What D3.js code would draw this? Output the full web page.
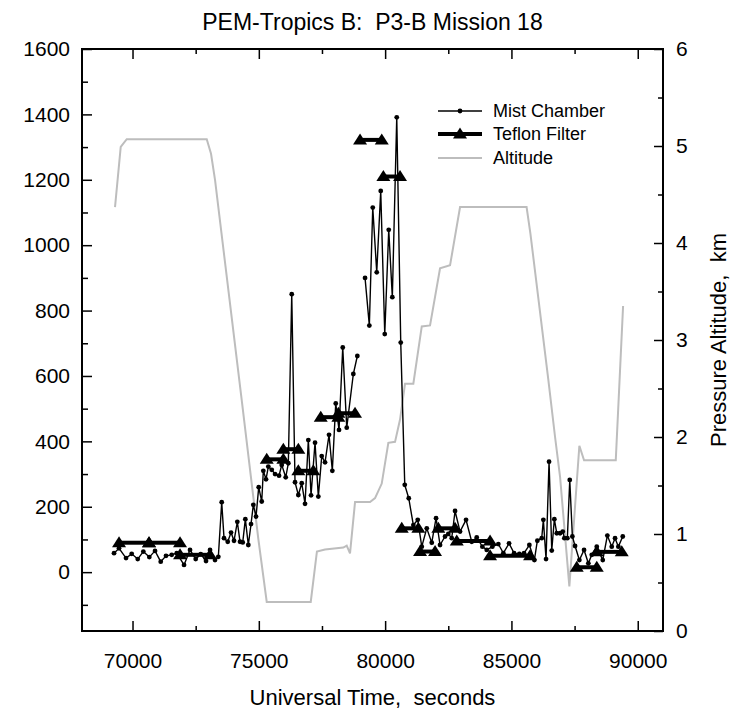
<!DOCTYPE html>
<html>
<head>
<meta charset="utf-8">
<script src="https://cdn.jsdelivr.net/npm/d3@7"></script>
<style>
  body { margin: 0; background: #fff; }
  text { font-family: "Liberation Sans", Arial, sans-serif; white-space: pre; }
</style>
</head>
<body>
<div id="chart"></div>
<script>
// Mist Chamber (UT seconds, value); null breaks the line
var mistTime = [69268, 69466, 69743, 69967, 70206, 70428, 70665, 70891, 71116, 71326, 71552, 71750,
  72039, 72276, 72501, 72700, 72910, 73068, 73266, 73397, 73531, 73622, 73769, 73900, 74018, 74149,
  74256, 74363, 74466, 74584, 74691, 74782, 74890, 74996, 75115, 75178, 75285, 75376, 75511, 75642,
  75800, 75907, 76065, 76168, 76303, 76433, 76564, 76699, 76829, 76960, 77067, 77225, 77356, 77490,
  77621, 77779, 77910, 78045, 78175, 78322, 78480, 78741, 78900, 79050,
  79205, 79375, 79510, 79668, 79826, 79985, 80143, 80285, 80460, 80618, 80777, 80935, 81117, 81291,
  81450, 81648, 81846, 82016, 82174, 82372, 82500, 82637, 82768, 82966, 83203, 83428, 83626, 83849,
  84023, 84245, 84482, 84680, 84906, 85104, 85314, 85500, 85710, 85908, 86026, 86200, 86264, 86370,
  86489, 86596, 86699, 86794, 86925, 87032, 87095, 87214, 87309, 87412, 87519, 87689, 87875, 88045,
  88180, 88378, 88615, 88797, 88971, 89102, 89233, 89407];
var mistValue = [58, 73, 43, 56, 40, 63, 46, 65, 32, 50, 53, 58,
  22, 68, 40, 55, 34, 68, 37, 47, 214, 104, 93, 121, 96, 154,
  93, 91, 162, 83, 147, 206, 170, 260, 216, 310, 284, 323, 313, 300,
  295, 328, 290, 333, 850, 275, 236, 272, 209, 404, 235, 396, 231, 355,
  336, 420, 310, 516, 435, 687, 442, 606, 661, null,
  900, 754, 1115, 917, 1166, 728, 1047, 841, 1391, 702, 267, 226, 144, 160,
  78, 134, 90, 165, 83, 109, 117, 104, 187, 124, 160, 93, 106, 78,
  68, 78, 86, 58, 88, 58, 56, 58, 83, 37, 96, 104, 160, 40,
  338, 66, 162, 119, 119, 124, 104, 104, 282, 109, 80, 37, 68, 27,
  53, 78, 37, 112, 78, 104, 78, 109];

// Teflon Filter samples: start, stop, value
var tefStart = [69466, 70653, 71881, 75313, 75970, 76564, 77451, 78148, 79007, 79930, 80658, 81383, 82106, 82835, 84154, 87586, 88378];
var tefStop  = [70653, 71881, 73069, 75970, 76564, 77158, 78148, 78808, 79866, 80590, 81315, 81976, 82768, 84154, 85737, 88378, 89367];
var tefValue = [90, 90, 53, 345, 376, 310, 474, 486, 1322, 1210, 134, 63, 134, 95, 50, 15, 62];

// Pressure altitude (km)
var altTime = [69307, 69533, 69770, 72938, 73108, 73266, 74323, 74980, 75313, 77055, 77300, 77620,
  78346, 78480, 78610, 78809, 79403, 79601, 79866, 80127, 80392, 80590, 80788, 81117, 81450, 81778,
  82174, 82570, 82966, 85600, 85750, 86461, 86727, 86925, 87293, 87689, 87875, 89130, 89420];
var altKm = [4.37, 4.99, 5.07, 5.07, 4.92, 4.65, 2.38, 0.95, 0.30, 0.30, 0.82, 0.84,
  0.86, 0.88, 0.80, 1.33, 1.33, 1.37, 1.52, 1.94, 1.95, 2.18, 2.55, 2.55, 3.14, 3.15,
  3.74, 3.77, 4.37, 4.37, 4.10, 2.59, 2.00, 1.59, 0.46, 1.91, 1.76, 1.76, 3.35];

var xMajor = [70000, 75000, 80000, 85000, 90000];
var xMinor = [72500, 77500, 82500, 87500];
var yLeftMajor = [0, 200, 400, 600, 800, 1000, 1200, 1400, 1600];
var yLeftMinor = [-100, 100, 300, 500, 700, 900, 1100, 1300, 1500];
var yRightMajor = [0, 1, 2, 3, 4, 5, 6];
var yRightMinor = [0.5, 1.5, 2.5, 3.5, 4.5, 5.5];

var W = 749, H = 721;
var L = 82, R = 663, T = 49, B = 631;

var svg = d3.select("#chart").append("svg")
    .attr("width", W)
    .attr("height", H);

var x = d3.scaleLinear().domain([68000, 91000]).range([L, R]);
var y = d3.scaleLinear().domain([-180, 1600]).range([B, T]);
var y2 = d3.scaleLinear().domain([0, 6]).range([B, T]);

function tidy(g) {
    g.select(".domain").remove();
    g.selectAll(".tick line").attr("stroke", "#000").attr("stroke-width", 1.5);
    g.selectAll(".tick text").attr("font-family", "Liberation Sans, Arial, sans-serif")
        .attr("font-size", 21).attr("fill", "#000");
}

// bottom
svg.append("g").attr("transform", "translate(0," + B + ")")
    .call(d3.axisBottom(x).tickValues(xMajor).tickSize(-10).tickPadding(22).tickFormat(d3.format("d")))
    .call(tidy);
svg.append("g").attr("transform", "translate(0," + B + ")")
    .call(d3.axisBottom(x).tickValues(xMinor).tickSize(-5).tickFormat(""))
    .call(tidy);
// top
svg.append("g").attr("transform", "translate(0," + T + ")")
    .call(d3.axisTop(x).tickValues(xMajor).tickSize(-10).tickFormat(""))
    .call(tidy);
svg.append("g").attr("transform", "translate(0," + T + ")")
    .call(d3.axisTop(x).tickValues(xMinor).tickSize(-5).tickFormat(""))
    .call(tidy);
// left
svg.append("g").attr("transform", "translate(" + L + ",0)")
    .call(d3.axisLeft(y).tickValues(yLeftMajor).tickSize(-10).tickPadding(12).tickFormat(d3.format("d")))
    .call(tidy);
svg.append("g").attr("transform", "translate(" + L + ",0)")
    .call(d3.axisLeft(y).tickValues(yLeftMinor).tickSize(-6).tickFormat(""))
    .call(tidy);
// right
svg.append("g").attr("transform", "translate(" + R + ",0)")
    .call(d3.axisRight(y2).tickValues(yRightMajor).tickSize(-9).tickPadding(13).tickFormat(d3.format("d")))
    .call(tidy);
svg.append("g").attr("transform", "translate(" + R + ",0)")
    .call(d3.axisRight(y2).tickValues(yRightMinor).tickSize(-5).tickFormat(""))
    .call(tidy);

// frame
svg.append("rect")
    .attr("x", L).attr("y", T)
    .attr("width", R - L).attr("height", B - T)
    .attr("fill", "none").attr("stroke", "#000").attr("stroke-width", 2);

// altitude
var altData = altTime.map(function(t, i) { return [t, altKm[i]]; });
svg.append("path")
    .datum(altData)
    .attr("fill", "none")
    .attr("stroke", "#bdbdbd")
    .attr("stroke-width", 2)
    .attr("d", d3.line().x(function(d) { return x(d[0]); }).y(function(d) { return y2(d[1]); }));

// mist chamber
var mistData = mistTime.map(function(t, i) { return [t, mistValue[i]]; });
svg.append("path")
    .datum(mistData)
    .attr("fill", "none")
    .attr("stroke", "#000")
    .attr("stroke-width", 1.4)
    .attr("d", d3.line()
        .defined(function(d) { return d[1] != null; })
        .x(function(d) { return x(d[0]); })
        .y(function(d) { return y(d[1]); }));
svg.append("g").selectAll("circle")
    .data(mistData.filter(function(d) { return d[1] != null; }))
    .enter().append("circle")
    .attr("cx", function(d) { return x(d[0]); })
    .attr("cy", function(d) { return y(d[1]); })
    .attr("r", 2.4)
    .attr("fill", "#000");

// teflon filter
var tri = "M-7,4.5L7,4.5L0,-6.5Z";
var tefData = tefStart.map(function(s, i) { return { s: s, e: tefStop[i], v: tefValue[i] }; });
var tg = svg.append("g");
tg.selectAll("line")
    .data(tefData)
    .enter().append("line")
    .attr("x1", function(d) { return x(d.s); })
    .attr("x2", function(d) { return x(d.e); })
    .attr("y1", function(d) { return y(d.v); })
    .attr("y2", function(d) { return y(d.v); })
    .attr("stroke", "#000")
    .attr("stroke-width", 4);
var tefPts = [];
tefData.forEach(function(d) { tefPts.push([d.s, d.v]); tefPts.push([d.e, d.v]); });
tg.selectAll("path")
    .data(tefPts)
    .enter().append("path")
    .attr("d", tri)
    .attr("transform", function(d) { return "translate(" + x(d[0]) + "," + y(d[1]) + ")"; })
    .attr("fill", "#000");

// legend
var rowY = [0, 23, 47];
var lg = svg.append("g").attr("transform", "translate(438,111)");
lg.append("line").attr("x1", 0).attr("x2", 44).attr("y1", rowY[0]).attr("y2", rowY[0])
    .attr("stroke", "#000").attr("stroke-width", 1.4);
lg.append("circle").attr("cx", 22).attr("cy", rowY[0]).attr("r", 2.4).attr("fill", "#000");
lg.append("line").attr("x1", 0).attr("x2", 44).attr("y1", rowY[1]).attr("y2", rowY[1])
    .attr("stroke", "#000").attr("stroke-width", 4);
lg.append("path").attr("d", tri).attr("transform", "translate(22," + rowY[1] + ")").attr("fill", "#000");
lg.append("line").attr("x1", 0).attr("x2", 44).attr("y1", rowY[2]).attr("y2", rowY[2])
    .attr("stroke", "#bdbdbd").attr("stroke-width", 2);
var labels = ["Mist Chamber", "Teflon Filter", "Altitude"];
lg.selectAll("text.lab")
    .data(labels)
    .enter().append("text")
    .attr("class", "lab")
    .attr("x", 55)
    .attr("y", function(d, i) { return rowY[i]; })
    .attr("dy", "0.35em")
    .attr("font-size", 18)
    .text(function(d) { return d; });

// titles
svg.append("text")
    .attr("x", (L + R) / 2).attr("y", 30)
    .attr("text-anchor", "middle")
    .attr("font-size", 23)
    .text("PEM-Tropics B:  P3-B Mission 18");
svg.append("text")
    .attr("x", (L + R) / 2).attr("y", 705)
    .attr("text-anchor", "middle")
    .attr("font-size", 22)
    .text("Universal Time,  seconds");
svg.append("text")
    .attr("transform", "translate(726," + ((T + B) / 2) + ") rotate(-90)")
    .attr("text-anchor", "middle")
    .attr("font-size", 22)
    .text("Pressure Altitude,  km");
</script>
</body>
</html>
